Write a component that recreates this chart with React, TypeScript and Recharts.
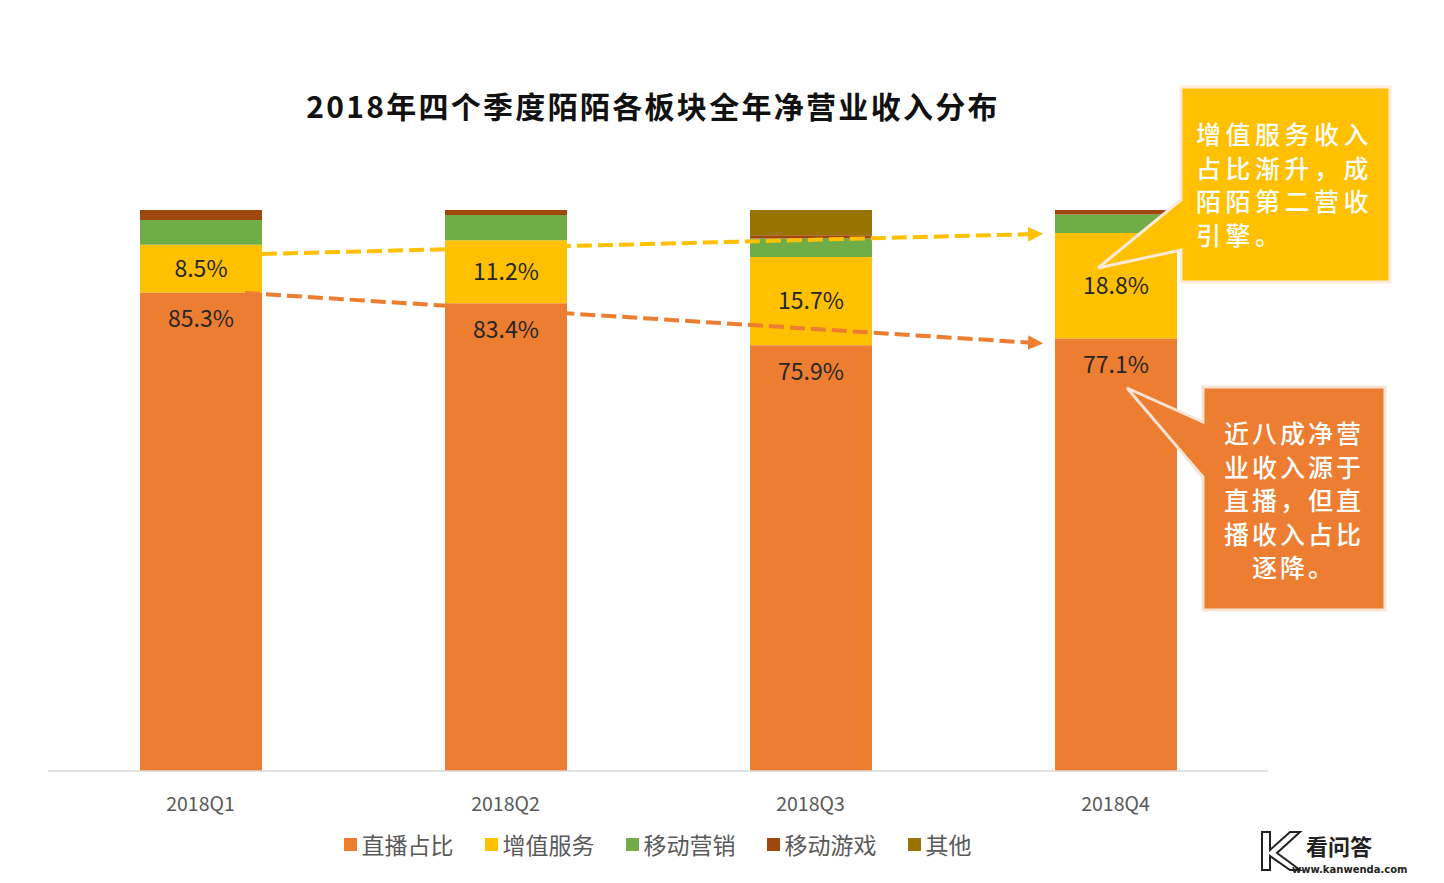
import React from "react";
import { BarChart, Bar, XAxis, YAxis, LabelList } from "recharts";

const quarters = ["2018Q1", "2018Q2", "2018Q3", "2018Q4"];
const liveShare = [85.3, 83.4, 75.9, 77.1];
const valueAdded = [8.5, 11.2, 15.7, 18.8];
const mobileMarketing = [4.4, 4.5, 3.3, 3.3];
const mobileGames = [1.8, 0.9, 0.6, 0.8];
const others = [0, 0, 4.5, 0];

const seriesNames = ["直播占比", "增值服务", "移动营销", "移动游戏", "其他"];
const seriesKeys = ["live", "vas", "mkt", "game", "other"];
const seriesColors = ["#ED7D31", "#FFC000", "#70AD47", "#9E480E", "#997300"];

const title = "2018年四个季度陌陌各板块全年净营业收入分布";
const calloutYellow = ["增值服务收入", "占比渐升，成", "陌陌第二营收", "引擎。"];
const calloutOrange = ["近八成净营", "业收入源于", "直播，但直", "播收入占比", "逐降。"];

const data = quarters.map((q, i) => ({
  q,
  live: liveShare[i],
  vas: valueAdded[i],
  mkt: mobileMarketing[i],
  game: mobileGames[i],
  other: others[i],
}));

const FONT = "'Noto Sans CJK SC', 'Noto Sans', sans-serif";

const LiveLabel = (props: any) => {
  const { x, y, width, value } = props;
  return (
    <text
      x={x + width / 2}
      y={y + 25}
      textAnchor="middle"
      dominantBaseline="central"
      fontSize={23}
      fill="#262626"
      fontFamily={FONT}
    >
      {value}%
    </text>
  );
};

const VasLabel = (props: any) => {
  const { x, y, width, height, value } = props;
  return (
    <text
      x={x + width / 2}
      y={y + height / 2 - 2}
      textAnchor="middle"
      dominantBaseline="central"
      fontSize={23}
      fill="#262626"
      fontFamily={FONT}
    >
      {value}%
    </text>
  );
};

export default function App() {
  return (
    <div
      style={{
        position: "absolute",
        left: 0,
        top: 0,
        width: 1444,
        height: 883,
        background: "#ffffff",
        overflow: "hidden",
        fontFamily: FONT,
      }}
    >
      <div
        style={{
          position: "absolute",
          left: 0,
          width: 1306,
          top: 85,
          textAlign: "center",
          fontSize: 30,
          fontWeight: 700,
          letterSpacing: 2.3,
          color: "#111",
          lineHeight: "40px",
        }}
      >
        {title}
      </div>
      <BarChart
        width={1444}
        height={883}
        data={data}
        margin={{ top: 210, right: 176, left: 48, bottom: 82 }}
        barSize={122}
      >
        <XAxis
          dataKey="q"
          axisLine={{ stroke: "#D9D9D9", strokeWidth: 1.5 }}
          tickLine={false}
          height={30}
          tickMargin={20}
          tick={{ fontSize: 19.5, fill: "#595959", fontFamily: FONT }}
        />
        <YAxis hide domain={[0, 100]} type="number" allowDataOverflow />
        {seriesKeys.map((k, i) => (
          <Bar
            key={k}
            dataKey={k}
            stackId="s"
            fill={seriesColors[i]}
            isAnimationActive={false}
            name={seriesNames[i]}
          >
            {k === "live" && <LabelList dataKey="live" content={LiveLabel} />}
            {k === "vas" && <LabelList dataKey="vas" content={VasLabel} />}
          </Bar>
        ))}
      </BarChart>

      <svg
        width={1444}
        height={883}
        style={{ position: "absolute", left: 0, top: 0, pointerEvents: "none" }}
      >
        <defs>
          <marker id="arrY" markerWidth="4" markerHeight="4" refX="2" refY="2" orient="auto" markerUnits="strokeWidth">
            <path d="M0,0.2 L3.8,2 L0,3.8 Z" fill="#FFC000" />
          </marker>
          <marker id="arrO" markerWidth="4" markerHeight="4" refX="2" refY="2" orient="auto" markerUnits="strokeWidth">
            <path d="M0,0.2 L3.8,2 L0,3.8 Z" fill="#ED7D31" />
          </marker>
        </defs>
        <line x1={262} y1={254} x2={1036} y2={234} stroke="#FFC000" strokeWidth={4} strokeDasharray="15 6" markerEnd="url(#arrY)" />
        <line x1={245} y1={293} x2={1036} y2={343} stroke="#ED7D31" strokeWidth={4} strokeDasharray="15 6" markerEnd="url(#arrO)" />

        <path
          d="M1181,87 L1390,87 L1390,282 L1181,282 L1181,250 L1098,268 L1181,200 Z"
          fill="#FFC000"
          stroke="#FBEBD9"
          strokeWidth={3}
          strokeLinejoin="miter"
        />
        {calloutYellow.map((t, i) => (
          <text
            key={t}
            x={1196}
            y={133 + i * 33.7}
            dominantBaseline="central"
            fontSize={25}
            fontWeight={500}
            letterSpacing={4.5}
            fill="#ffffff"
            fontFamily={FONT}
          >
            {t}
          </text>
        ))}

        <path
          d="M1203,387 L1385,387 L1385,610 L1203,610 L1203,477 L1127,388 L1203,422 Z"
          fill="#ED7D31"
          stroke="#FBE3D3"
          strokeWidth={3}
          strokeLinejoin="miter"
        />
        {calloutOrange.map((t, i) => (
          <text
            key={t}
            x={1294}
            y={432 + i * 33.6}
            textAnchor="middle"
            dominantBaseline="central"
            fontSize={25}
            fontWeight={500}
            letterSpacing={3}
            fill="#ffffff"
            fontFamily={FONT}
          >
            {t}
          </text>
        ))}

        <text x={1306} y={855} fontSize={22} fontWeight={700} fill="#222" fontFamily={FONT}>看问答</text>
        <text x={1292} y={873} fontSize={10} fontWeight={700} fill="#222" fontFamily="'DejaVu Sans', sans-serif">www.kanwenda.com</text>
        <path d="M1262,832 L1270,832 L1270,850 L1290,832 L1300,832 L1277,853 L1300,870 L1290,870 L1270,856 L1270,870 L1262,870 Z" fill="none" stroke="#222" strokeWidth={2} />
      </svg>

      <div
        style={{
          position: "absolute",
          left: 0,
          width: 1346,
          top: 828,
          display: "flex",
          justifyContent: "center",
          alignItems: "center",
          fontSize: 23,
          color: "#595959",
          lineHeight: "32px",
        }}
      >
        {seriesNames.map((n, i) => (
          <div key={n} style={{ display: "flex", alignItems: "center", marginRight: 31 }}>
            <span style={{ width: 13, height: 13, background: seriesColors[i], display: "inline-block", marginRight: 5 }} />
            <span>{n}</span>
          </div>
        ))}
      </div>
    </div>
  );
}
